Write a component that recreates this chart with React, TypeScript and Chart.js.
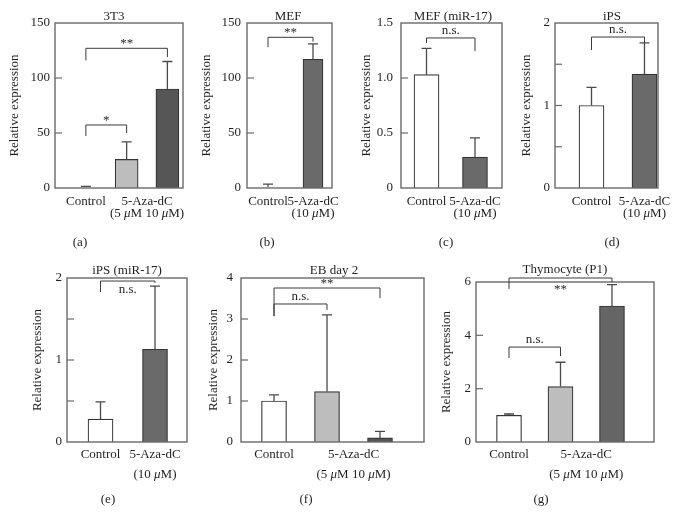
import React, { useEffect, useRef } from "react";
import { Chart, registerables } from "chart.js";

Chart.register(...registerables);

// ---------------- data ----------------
const titles = ["3T3", "MEF", "MEF (miR-17)", "iPS", "iPS (miR-17)", "EB day 2", "Thymocyte (P1)"];
const panelLetters = ["(a)", "(b)", "(c)", "(d)", "(e)", "(f)", "(g)"];
const groupLabels = ["Control", "5-Aza-dC"];
const doseSingle = "(10 μM)";
const doseDouble = "(5 μM 10 μM)";
const yAxisTitle = "Relative expression";

const val3T3 = [0.8, 26, 90];
const err3T3 = [0.6, 16, 25];
const valMEF = [1, 117];
const errMEF = [2.6, 14];
const valMEFmiR = [1.03, 0.28];
const errMEFmiR = [0.24, 0.175];
const valIPS = [1.0, 1.38];
const errIPS = [0.22, 0.38];
const valIPSmiR = [0.28, 1.13];
const errIPSmiR = [0.21, 0.77];
const valEB = [1.0, 1.23, 0.1];
const errEB = [0.15, 1.87, 0.16];
const valThy = [1.0, 2.08, 5.1];
const errThy = [0.05, 0.91, 0.8];

const yMaxes = [150, 150, 1.5, 2, 2, 4, 6];
const ySteps = [50, 50, 0.5, 0.5, 0.5, 1, 2];

// significance brackets: [fromBar, toBar, level, leftLegEnd, rightLegEnd, label]
const sig3T3 = [[0, 1, 57.3, 47.3, 50, "*"], [0, 2, 127, 116, 119, "**"]];
const sigMEF = [[0, 1, 137, 128, 133, "**"]];
const sigMEFmiR = [[0, 1, 1.364, 1.318, 1.245, "n.s."]];
const sigIPS = [[0, 1, 1.83, 1.673, 1.758, "n.s."]];
const sigIPSmiR = [[0, 1, 1.963, 1.83, 1.94, "n.s."]];
const sigEB = [[0, 1, 3.366, 3.07, 3.22, "n.s."], [0, 2, 3.756, 3.07, 3.51, "**"]];
const sigThy = [[0, 1, 3.56, 3.15, 3.22, "n.s."], [0, 2, 6.15, 5.74, 6.0, "**"]];

// ---------------- styles / layout ----------------
const FONT = '"Liberation Serif", "Times New Roman", serif';
const TEXT = "#231f20";
const BOX = "#6a6a6a";
const BAR_BORDER = "#353535";
const ERR = "#4a4a4a";
const BRACKET = "#3a3a3a";
const FS = 13;
const WHITE = "#ffffff";
const LIGHT = "#bdbdbd";

const layouts = [
  { L: 55, R: 183, T: 23, B: 188, xMin: -0.758, xMax: 2.383, barW: 23, tickPad: 5, titleX: 114, titleY: 16.5, letterX: 80, letterY: 243, yTitleX: 15, line1Y: 201.5, line2Y: 214, below: [false, false], fills: [WHITE, LIGHT, "#565656"] },
  { L: 247, R: 332, T: 23, B: 188, xMin: -0.467, xMax: 1.422, barW: 20, tickPad: 6, titleX: 288, titleY: 16.5, letterX: 267, letterY: 243, yTitleX: 207, line1Y: 201.5, line2Y: 214, below: [false], fills: [WHITE, "#6a6a6a"] },
  { L: 401, R: 502, T: 23, B: 188, xMin: -0.526, xMax: 1.557, barW: 25, tickPad: 8, titleX: 453, titleY: 16.5, letterX: 446, letterY: 243, yTitleX: 367, line1Y: 201.5, line2Y: 214, below: [false], fills: [WHITE, "#6a6a6a"] },
  { L: 555, R: 658, T: 23, B: 188, xMin: -0.689, xMax: 1.255, barW: 25, tickPad: 5, titleX: 612, titleY: 16.5, letterX: 612, letterY: 243, yTitleX: 527, line1Y: 201.5, line2Y: 214, below: [false], fills: [WHITE, "#6a6a6a"] },
  { L: 67, R: 187, T: 278, B: 442, xMin: -0.615, xMax: 1.587, barW: 25, tickPad: 5, titleX: 127, titleY: 271, letterX: 108, letterY: 500, yTitleX: 38, line1Y: 454.5, line2Y: 474.5, below: [true], fills: [WHITE, "#6a6a6a"] },
  { L: 241, R: 424, T: 278, B: 442, xMin: -0.623, xMax: 2.83, barW: 25, tickPad: 8, titleX: 334, titleY: 271, letterX: 306, letterY: 500, yTitleX: 214, line1Y: 454.5, line2Y: 474.5, below: [false, false], fills: [WHITE, LIGHT, "#555555"] },
  { L: 476, R: 654, T: 282, B: 442, xMin: -0.641, xMax: 2.816, barW: 25, tickPad: 5, titleX: 565, titleY: 269.5, letterX: 541, letterY: 500, yTitleX: 447, line1Y: 454.5, line2Y: 474.5, below: [false, true], fills: [WHITE, LIGHT, "#656565"] },
];

const panelValues = [val3T3, valMEF, valMEFmiR, valIPS, valIPSmiR, valEB, valThy];
const panelErrors = [err3T3, errMEF, errMEFmiR, errIPS, errIPSmiR, errEB, errThy];
const panelSig = [sig3T3, sigMEF, sigMEFmiR, sigIPS, sigIPSmiR, sigEB, sigThy];

const W = 685;
const H = 514;
const YAXIS_W = 40;

function tickFormatter(i: number) {
  return (v: number) => {
    if (i === 2) return v === 0 ? "0" : v.toFixed(1);
    if (i === 3 || i === 4) return Number.isInteger(v) ? String(v) : "";
    return String(v);
  };
}

function drawRich(ctx: CanvasRenderingContext2D, text: string, cx: number, cy: number) {
  const parts = text.split(/(μ)/).filter((p) => p.length > 0);
  const fonts = parts.map((p) => (p === "μ" ? `italic ${FS}px ${FONT}` : `${FS}px ${FONT}`));
  let total = 0;
  parts.forEach((p, i) => {
    ctx.font = fonts[i];
    total += ctx.measureText(p).width;
  });
  let x = cx - total / 2;
  ctx.textAlign = "left";
  ctx.textBaseline = "middle";
  parts.forEach((p, i) => {
    ctx.font = fonts[i];
    ctx.fillText(p, x, cy);
    x += ctx.measureText(p).width;
  });
}

function drawCentered(ctx: CanvasRenderingContext2D, text: string, cx: number, cy: number) {
  ctx.font = `${FS}px ${FONT}`;
  ctx.textAlign = "center";
  if (text.includes("*")) {
    ctx.textBaseline = "alphabetic";
    ctx.fillText(text, cx, cy + FS * 0.47);
  } else if (text === "n.s.") {
    ctx.textBaseline = "alphabetic";
    ctx.fillText(text, cx, cy + FS * 0.24);
  } else {
    ctx.textBaseline = "middle";
    ctx.fillText(text, cx, cy);
  }
}

function PanelChart({ idx }: { idx: number }) {
  const ref = useRef<HTMLCanvasElement | null>(null);
  useEffect(() => {
    const lay = layouts[idx];
    const values = panelValues[idx];
    const errors = panelErrors[idx];
    const sigs = panelSig[idx];
    const n = values.length;

    const decor = {
      id: "decor" + idx,
      afterDatasetsDraw(chart: any) {
        const ctx: CanvasRenderingContext2D = chart.ctx;
        const ca = chart.chartArea;
        const xs = chart.scales.x;
        const ys = chart.scales.y;
        ctx.save();

        // error bars
        ctx.strokeStyle = ERR;
        ctx.lineWidth = 1.3;
        for (let i = 0; i < n; i++) {
          const x = xs.getPixelForValue(i);
          const y0 = ys.getPixelForValue(values[i]);
          const y1 = ys.getPixelForValue(values[i] + errors[i]);
          ctx.beginPath();
          ctx.moveTo(x, y0);
          ctx.lineTo(x, y1);
          ctx.moveTo(x - 5, y1);
          ctx.lineTo(x + 5, y1);
          ctx.stroke();
        }

        // box
        ctx.strokeStyle = BOX;
        ctx.lineWidth = 1.4;
        ctx.strokeRect(ca.left, ca.top, ca.right - ca.left, ca.bottom - ca.top);

        // inward tick marks
        ctx.lineWidth = 1.2;
        ys.ticks.forEach((t: any) => {
          if (t.value > ys.min && t.value < ys.max) {
            const y = ys.getPixelForValue(t.value);
            ctx.beginPath();
            ctx.moveTo(ca.left, y);
            ctx.lineTo(ca.left + 7, y);
            ctx.stroke();
          }
        });

        // brackets
        ctx.fillStyle = TEXT;
        sigs.forEach((s: any, k: number) => {
          const [from, to, level, legL, legR, label] = s;
          const xa = xs.getPixelForValue(from);
          const xb = xs.getPixelForValue(to);
          const yl = ys.getPixelForValue(level);
          ctx.strokeStyle = BRACKET;
          ctx.lineWidth = 1;
          ctx.beginPath();
          ctx.moveTo(xa, ys.getPixelForValue(legL));
          ctx.lineTo(xa, yl);
          ctx.lineTo(xb, yl);
          ctx.lineTo(xb, ys.getPixelForValue(legR));
          ctx.stroke();
          const below = lay.below[k];
          drawCentered(ctx, label, (xa + xb) / 2, below ? yl + 9 : yl - 7);
        });

        // texts
        ctx.fillStyle = TEXT;
        drawCentered(ctx, titles[idx], lay.titleX, lay.titleY);
        drawCentered(ctx, panelLetters[idx], lay.letterX, lay.letterY);
        const xCtrl = xs.getPixelForValue(0);
        let xAza = 0;
        for (let i = 1; i < n; i++) xAza += xs.getPixelForValue(i);
        xAza /= n - 1;
        drawCentered(ctx, groupLabels[0], xCtrl, lay.line1Y);
        drawCentered(ctx, groupLabels[1], xAza, lay.line1Y);
        drawRich(ctx, n === 3 ? doseDouble : doseSingle, xAza, lay.line2Y);

        // y-axis title
        ctx.save();
        ctx.translate(lay.yTitleX, (ca.top + ca.bottom) / 2);
        ctx.rotate(-Math.PI / 2);
        ctx.font = `${FS}px ${FONT}`;
        ctx.textAlign = "center";
        ctx.textBaseline = "middle";
        ctx.fillText(yAxisTitle, 0, 0);
        ctx.restore();

        ctx.restore();
      },
    };

    const chart = new Chart(ref.current as HTMLCanvasElement, {
      type: "bar",
      data: {
        datasets: [
          {
            data: values.map((v, i) => ({ x: i, y: v })),
            backgroundColor: lay.fills,
            borderColor: BAR_BORDER,
            borderWidth: (c: any) => {
              const ys = c.chart.scales.y;
              const v = c.raw && typeof c.raw.y === "number" ? c.raw.y : 0;
              if (!ys) return 1.2;
              const h = ys.getPixelForValue(0) - ys.getPixelForValue(v);
              return h < 3 ? 0 : 1.2;
            },
            barThickness: lay.barW,
          } as any,
        ],
      },
      options: {
        responsive: false,
        animation: false,
        devicePixelRatio: 1,
        events: [],
        layout: {
          padding: { left: lay.L - YAXIS_W, right: W - lay.R, top: lay.T, bottom: H - lay.B },
        },
        plugins: {
          legend: { display: false },
          tooltip: { enabled: false },
          title: { display: false },
        },
        scales: {
          x: {
            type: "linear",
            min: lay.xMin,
            max: lay.xMax,
            offset: false,
            display: false,
          },
          y: {
            min: 0,
            max: yMaxes[idx],
            display: true,
            afterFit: (s: any) => {
              s.width = YAXIS_W;
            },
            grid: { display: false, drawTicks: false },
            border: { display: false },
            ticks: {
              stepSize: ySteps[idx],
              padding: lay.tickPad,
              color: TEXT,
              font: { family: FONT, size: FS },
              callback: tickFormatter(idx) as any,
            },
          },
        },
      } as any,
      plugins: [decor],
    });
    return () => chart.destroy();
  }, [idx]);
  return (
    <canvas
      ref={ref}
      width={W}
      height={H}
      style={{ position: "absolute", left: 0, top: 0, width: W, height: H }}
    />
  );
}

export default function App() {
  return (
    <div style={{ position: "absolute", left: 0, top: 0, width: W, height: H, background: "#ffffff", overflow: "hidden" }}>
      {layouts.map((_, i) => (
        <PanelChart key={i} idx={i} />
      ))}
    </div>
  );
}
